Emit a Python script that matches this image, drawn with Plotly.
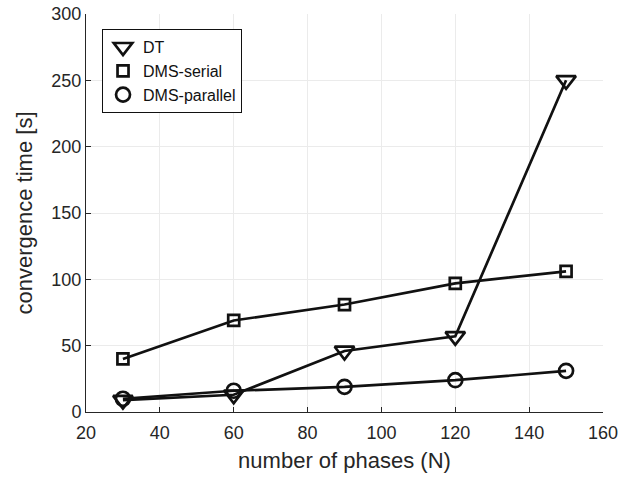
import plotly.graph_objects as go

phases = [30, 60, 90, 120, 150]
dt = [9, 13, 46, 57, 250]
dms_serial = [40, 69, 81, 97, 106]
dms_parallel = [10, 16, 19, 24, 31]

series = [
    ("DT", dt, "triangle-down-open", 17),
    ("DMS-serial", dms_serial, "square-open", 11),
    ("DMS-parallel", dms_parallel, "circle-open", 14),
]

fig = go.Figure()
for name, vals, sym, sz in series:
    fig.add_trace(go.Scatter(
        x=phases, y=vals, mode="lines+markers", name=name, showlegend=False,
        line=dict(color="#111111", width=2.7),
        marker=dict(symbol=sym, size=sz, color="#111111", line=dict(width=2.7, color="#111111")),
    ))
for name, vals, sym, sz in series:
    fig.add_trace(go.Scatter(
        x=[None], y=[None], mode="markers", name=name,
        marker=dict(symbol=sym, size=sz, color="#111111", line=dict(width=2.7, color="#111111")),
    ))

font = "Liberation Sans, Arial, Helvetica, sans-serif"
fig.update_layout(
    width=619, height=482,
    margin=dict(l=86, r=16, t=14, b=70, autoexpand=False),
    paper_bgcolor="white", plot_bgcolor="white",
    font=dict(family=font, size=18, color="#262626"),
    showlegend=True,
    legend=dict(x=0.031, y=0.962, xanchor="left", yanchor="top",
                bordercolor="#111111", borderwidth=1, bgcolor="white",
                font=dict(size=16, color="#111111"), itemwidth=30,
                tracegroupgap=0),
    xaxis=dict(range=[20, 160], tickvals=[20, 40, 60, 80, 100, 120, 140, 160],
               automargin=False, ticklabeloverflow="allow", ticklabelstandoff=4,
               showgrid=True, gridcolor="#ebebeb", gridwidth=1,
               showline=True, linecolor="#262626", linewidth=1,
               ticks="inside", ticklen=5, tickcolor="#262626",
               zeroline=False,
               title=dict(text="number of phases (N)", font=dict(size=22), standoff=11)),
    yaxis=dict(range=[0, 300], tickvals=[0, 50, 100, 150, 200, 250, 300],
               automargin=False, ticklabeloverflow="allow",
               showgrid=True, gridcolor="#ebebeb", gridwidth=1,
               showline=True, linecolor="#262626", linewidth=1,
               ticks="inside", ticklen=5, tickcolor="#262626",
               zeroline=False,
               title=dict(text="convergence time [s]", font=dict(size=22), standoff=12)),
)

fig.write_html("out.html", config={"displayModeBar": False},
               post_script="document.body.style.margin='0px';document.body.style.overflow='hidden';")
